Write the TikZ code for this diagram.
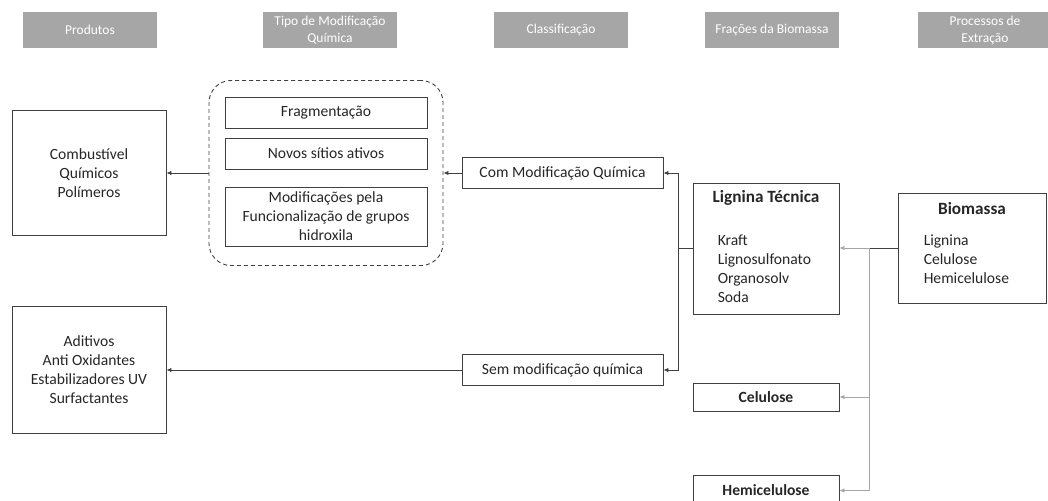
\documentclass[tikz,border=0pt]{standalone}
\usepackage{fontspec}
\setmainfont{Carlito}
\usetikzlibrary{positioning,arrows.meta}

\definecolor{cabec}{HTML}{A6A6A6}
\definecolor{traco}{HTML}{404040}
\definecolor{ramo}{HTML}{A6A6A6}

\begin{document}
\begin{tikzpicture}[x=1pt,y=-1pt,
  every node/.style={inner sep=0pt,text=black!85},
  cabecalho/.style={fill=cabec,text=white,minimum width=134pt,minimum height=36pt,align=center,font=\fontsize{13.5}{17}\selectfont},
  caixa/.style={draw=traco,line width=0.9pt,align=center,font=\fontsize{15.6}{19}\selectfont},
  titulo/.style={font=\fontsize{17.2}{19}\selectfont\bfseries},
  lista/.style={align=left,font=\fontsize{15.6}{19}\selectfont},
  seta/.style={draw=traco,line width=0.9pt,-{Latex[length=5pt,width=4.5pt]}},
  setaclara/.style={draw=ramo,line width=0.9pt,-{Latex[length=5pt,width=4.5pt]}},
  linha/.style={draw=traco,line width=0.9pt}]
% frame of the page, y grows downwards
\useasboundingbox (0,0) rectangle (1048,500);
\clip (0,0) rectangle (1048,500);

% column headers
\node[cabecalho] (hprod) at (90,30) {Produtos};
\node[cabecalho] (htipo) at (330,30) {Tipo de Modificação\\Química};
\node[cabecalho] (hclass) at (561,30) {Classificação};
\node[cabecalho] (hfrac) at (772,30) {Frações da Biomassa};
\node[cabecalho] (hproc) at (985,30) {Processos de\\Extração};

% products
\node[caixa,minimum width=154pt,minimum height=125pt] (comb) at (89,173) {Combustível\\Químicos\\Polímeros};
\node[caixa,minimum width=154pt,minimum height=127pt] (adit) at (89,370) {Aditivos\\Anti Oxidantes\\Estabilizadores UV\\Surfactantes};

% kinds of modification, inside the dashed group
\node[draw=traco,line width=0.9pt,dash pattern=on 4pt off 3pt,rounded corners=22pt,minimum width=234pt,minimum height=185pt] (grupo) at (326,173) {};
\node[caixa,minimum width=202pt,minimum height=31pt] (frag) at (326,112.5) {Fragmentação};
\node[caixa,minimum width=202pt,minimum height=31pt] (novos) at (326,153.5) {Novos sítios ativos};
\node[caixa,minimum width=202pt,minimum height=59pt] (funcs) at (326,216.5) {Modificações pela\\Funcionalização de grupos\\hidroxila};

% classification
\node[caixa,minimum width=201pt,minimum height=31pt] (com) at (562.5,173) {Com Modificação Química};
\node[caixa,minimum width=201pt,minimum height=31pt] (sem) at (562.5,370) {Sem modificação química};

% fractions
\node[caixa,minimum width=146pt,minimum height=131pt] (lig) at (766,248.5) {};
\node[titulo] (ligtit) at ([yshift=-15pt]lig.north) {Lignina Técnica};
\node[lista,anchor=west] (liglist) at ([xshift=25pt,yshift=-20.5pt]lig.west) {Kraft\\Lignosulfonato\\Organosolv\\Soda};
\node[caixa,minimum width=146pt,minimum height=28pt,font=\fontsize{15.6}{19}\selectfont\bfseries] (cel) at (766,397) {Celulose};
\node[caixa,minimum width=146pt,minimum height=31pt,font=\fontsize{15.6}{19}\selectfont\bfseries] (hemi) at (766,490.5) {Hemicelulose};

% biomass
\node[caixa,minimum width=148pt,minimum height=110pt] (bio) at (972,248) {};
\node[titulo] (biotit) at ([yshift=-16pt]bio.north) {Biomassa};
\node[lista,anchor=west] (biolist) at ([xshift=26pt,yshift=-11pt]bio.west) {Lignina\\Celulose\\Hemicelulose};

% connectors
\coordinate (jesq) at (678,248);
\coordinate (jdir) at (869,248);
\draw[linha] (bio.west) -- (jdir);
\draw[setaclara] (jdir) -- (lig.east |- jdir);
\draw[setaclara] (jdir) |- (cel.east);
\draw[setaclara] (jdir) |- (hemi.east);
\draw[linha] (lig.west |- jesq) -- (jesq);
\draw[seta] (jesq) |- (com.east);
\draw[seta] (jesq) |- (sem.east);
\draw[seta] (com.west) -- (grupo.east);
\draw[seta] (grupo.west) -- (comb.east);
\draw[seta] (sem.west) -- (adit.east);
\end{tikzpicture}
\end{document}
